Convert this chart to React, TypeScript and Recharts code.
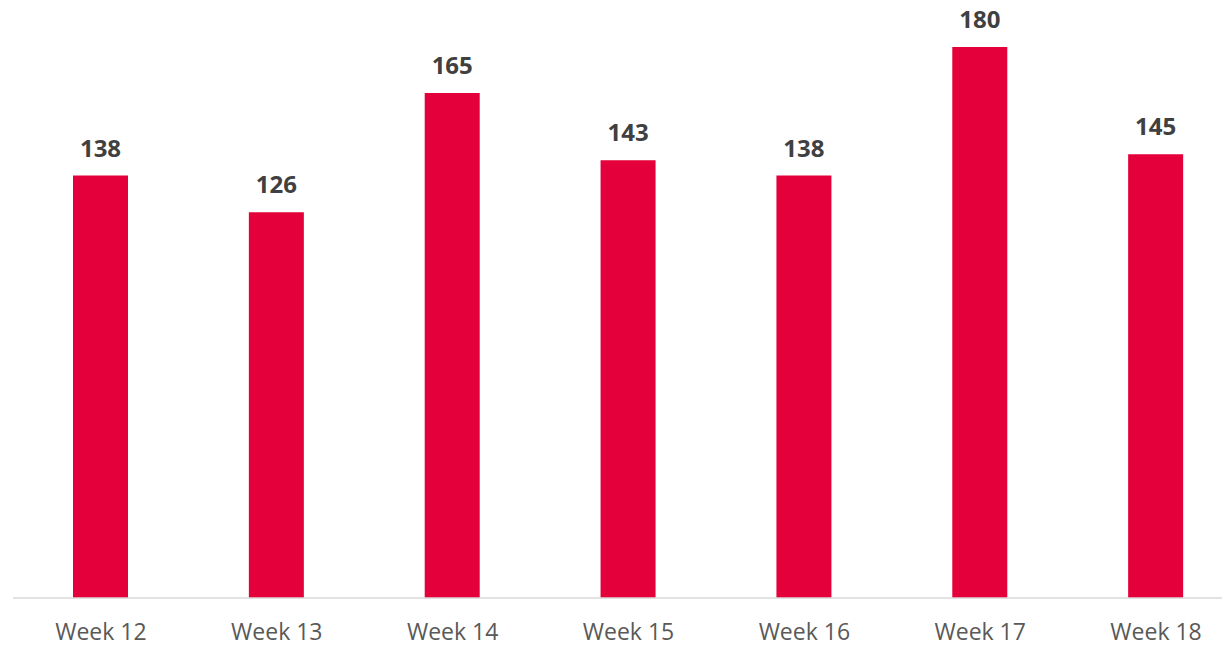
import { BarChart, Bar, XAxis, YAxis, LabelList } from 'recharts';

const weeks = ['Week 12', 'Week 13', 'Week 14', 'Week 15', 'Week 16', 'Week 17', 'Week 18'];
const counts = [138, 126, 165, 143, 138, 180, 145];

const chartData = weeks.map((week, i) => ({ week, count: counts[i] }));

const FONT = '"Open Sans", "Liberation Sans", sans-serif';

const renderTick = (props: any) => {
  const { x, y, payload } = props;
  return (
    <text x={x} y={y + 42} textAnchor="middle" fill="#595959" fontSize={23} fontFamily={FONT}>
      {payload.value}
    </text>
  );
};

const renderLabel = (props: any) => {
  const { x, y, width, value } = props;
  return (
    <text
      x={x + width / 2}
      y={y - 19}
      textAnchor="middle"
      fill="#404040"
      fontSize={24}
      fontWeight="bold"
      fontFamily={FONT}
    >
      {value}
    </text>
  );
};

export default function App() {
  return (
    <div
      style={{
        position: 'absolute',
        top: 0,
        left: 0,
        width: 1222,
        height: 647,
        overflow: 'hidden',
        background: '#fff',
      }}
    >
      <BarChart
        width={1250}
        height={647}
        data={chartData}
        margin={{ top: 47, right: 6, bottom: 0, left: 13 }}
        barCategoryGap={60}
      >
        <XAxis
          dataKey="week"
          height={49}
          axisLine={{ stroke: '#d9d9d9', strokeWidth: 1.5 }}
          tickLine={false}
          tickSize={0}
          tickMargin={0}
          tick={renderTick}
          interval={0}
        />
        <YAxis hide domain={[0, 180]} />
        <Bar dataKey="count" fill="#e4003a" barSize={55} isAnimationActive={false}>
          <LabelList dataKey="count" content={renderLabel} />
        </Bar>
      </BarChart>
    </div>
  );
}
